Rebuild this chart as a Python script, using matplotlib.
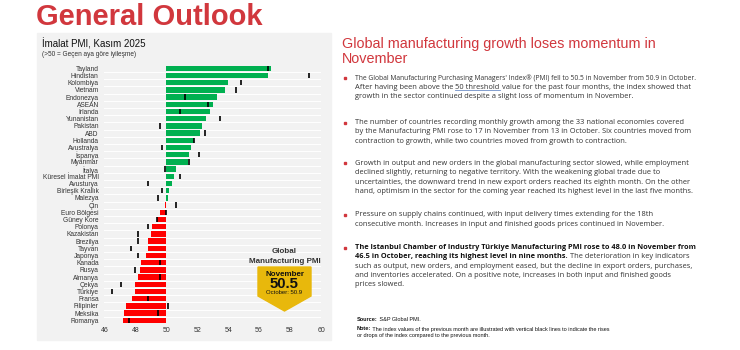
import matplotlib
matplotlib.use("Agg")
import matplotlib.pyplot as plt
from matplotlib.patches import Rectangle, Polygon
from matplotlib.lines import Line2D

plt.rcParams['font.family'] = ['Liberation Sans', 'DejaVu Sans']

# November 2025 manufacturing PMI and the October value (black markers)
countries = ['Tayland', 'Hindistan', 'Kolombiya', 'Vietnam', 'Endonezya', 'ASEAN',
             'İrlanda', 'Yunanistan', 'Pakistan', 'ABD', 'Hollanda', 'Avustralya',
             'İspanya', 'Myanmar', 'İtalya', 'Küresel İmalat PMI', 'Avusturya',
             'Birleşik Krallık', 'Malezya', 'Çin', 'Euro Bölgesi', 'Güney Kore',
             'Polonya', 'Kazakistan', 'Brezilya', 'Tayvan', 'Japonya', 'Kanada',
             'Rusya', 'Almanya', 'Çekya', 'Türkiye', 'Fransa', 'Filipinler',
             'Meksika', 'Romanya']
pmi_nov = [56.8, 56.6, 54.0, 53.8, 53.3, 53.0, 52.8, 52.6, 52.3, 52.2, 51.8, 51.6,
           51.5, 51.4, 50.6, 50.5, 50.4, 50.2, 50.1, 49.9, 49.6, 49.4, 49.1, 49.0,
           48.8, 48.8, 48.7, 48.4, 48.3, 48.2, 48.0, 48.0, 47.8, 47.4, 47.3, 47.2]
pmi_oct = [56.6, 59.2, 54.8, 54.5, 51.2, 52.7, 50.9, 53.5, 49.6, 52.5, 51.8, 49.7,
           52.1, 51.5, 49.9, 50.9, 48.8, 49.7, 49.5, 50.6, 50.0, 49.4, 48.8, 48.2,
           48.2, 47.7, 48.2, 49.6, 48.0, 49.6, 47.1, 46.5, 48.8, 50.1, 49.5, 47.6]
x_ticks = [46, 48, 50, 52, 54, 56, 58, 60]

RED = '#d1373d'
GREEN = '#00b050'
BAR_RED = '#ff0000'
TXT = '#333333'
W, H = 740, 350
BODY_FONT = ['Open Sans', 'DejaVu Sans']


def fx(x):
    return x / W


def fy(y):
    return 1 - y / H


fig = plt.figure(figsize=(7.4, 3.5), dpi=100)

# title and grey chart panel
fig.text(fx(36), fy(25), 'General Outlook', color=RED, fontsize=21,
         fontweight='bold', va='baseline')
fig.patches.append(Rectangle((fx(37), fy(340)), fx(331 - 37), (340 - 33) / H,
                             transform=fig.transFigure, color='#f2f2f2', zorder=-5))
fig.text(fx(42), fy(44), 'İmalat PMI, Kasım 2025', fontsize=7, color='#111111', va='center')
fig.text(fx(42), fy(55), '(>50 = Geçen aya göre iyileşme)', fontsize=4.7,
         color=TXT, va='center')

# bar chart
ax = fig.add_axes([fx(104.3), fy(323.9), fx(321 - 104.3), 259.2 / H])
ax.set_facecolor('none')
ypos = list(range(len(countries)))
colors = [GREEN if v >= 50 else BAR_RED for v in pmi_nov]
ax.barh(ypos, [v - 50 for v in pmi_nov], left=50, height=0.75, color=colors, zorder=2)
ax.vlines(pmi_oct, [y - 0.38 for y in ypos], [y + 0.38 for y in ypos],
          color='black', lw=1.2, zorder=3)
for y in ypos[1:]:
    ax.axhline(y - 0.5, color='white', lw=0.7, zorder=1)
ax.set_xlim(46, 60)
ax.set_ylim(len(countries) - 0.5, -0.5)
ax.set_xticks(x_ticks)
ax.set_yticks(ypos)
ax.set_yticklabels(countries)
ax.tick_params(length=0, labelsize=4.8, colors=TXT, axis='y', pad=4)
ax.tick_params(length=0, labelsize=5, colors=TXT, axis='x', pad=2.5)
for s in ax.spines.values():
    s.set_visible(False)

# global PMI badge
badge = Polygon([(fx(258), fy(267)), (fx(311), fy(267)), (fx(311), fy(296)),
                 (fx(284.5), fy(311)), (fx(258), fy(296))],
                transform=fig.transFigure, color='#e8b80c', zorder=2)
fig.patches.append(badge)
fig.text(fx(284.5), fy(251.5), 'Global', fontsize=5.8, fontweight='bold',
         color=TXT, ha='center', va='center')
fig.text(fx(284.5), fy(261.5), 'Manufacturing PMI', fontsize=5.8, fontweight='bold',
         color=TXT, ha='center', va='center')
fig.text(fx(284.5), fy(274.5), 'November', fontsize=5.8, fontweight='bold',
         color='#111111', ha='center', va='center')
fig.text(fx(284.5), fy(283.5), '50.5', fontsize=10.7, fontweight='bold',
         color='#111111', ha='center', va='center')
fig.text(fx(284.5), fy(293), 'October: 50.9', fontsize=4.3,
         color='#111111', ha='center', va='center')

# right column
fig.text(fx(342), fy(44), 'Global manufacturing growth loses momentum in',
         fontsize=10.4, color=RED, va='center')
fig.text(fx(342), fy(59), 'November', fontsize=10.4, color=RED, va='center')

paragraphs = [
    (78, [None, None,
          "growth in the sector continued despite a slight loss of momentum in November."]),
    (122.5, ["The number of countries recording monthly growth among the 33 national economies covered",
             "by the Manufacturing PMI rose to 17 in November from 13 in October. Six countries moved from",
             "contraction to growth, while two countries moved from growth to contraction."]),
    (163.5, ["Growth in output and new orders in the global manufacturing sector slowed, while employment",
             "declined slightly, returning to negative territory. With the weakening global trade due to",
             "uncertainties, the downward trend in new export orders reached its eighth month. On the other",
             "hand, optimism in the sector for the coming year reached its highest level in the last five months."]),
    (215, ["Pressure on supply chains continued, with input delivery times extending for the 18th",
           "consecutive month. Increases in input and finished goods prices continued in November."]),
]
LS = 9.3
BODY = 5.4
BOLD = 5.3
TX = 355
for y0, lines in paragraphs:
    fig.add_artist(Line2D([fx(344.5)], [fy(y0)], marker='s', ms=1.7, color=RED,
                          transform=fig.transFigure))
    for i, line in enumerate(lines):
        if line is None:
            continue
        fig.text(fx(TX), fy(y0 + i * LS), line, fontsize=BODY, color=TXT, va='center',
                 family=BODY_FONT)

# first line of the first bullet is a little tighter
fig.text(fx(TX), fy(78),
         "The Global Manufacturing Purchasing Managers' Index® (PMI) fell to 50.5 in November from 50.9 in October.",
         fontsize=4.85, color=TXT, va='center', family=BODY_FONT)

# line with the underlined "50 threshold"
y1 = 78 + LS
t1 = fig.text(fx(TX), fy(y1), 'After having been above the ', fontsize=BODY,
              color=TXT, va='center', family=BODY_FONT)
t2 = ax.annotate('50 threshold', xy=(1, 0), xycoords=t1, va='bottom',
                 fontsize=BODY, color=TXT, annotation_clip=False, family=BODY_FONT)
t3 = ax.annotate(' value for the past four months, the index showed that', xy=(1, 0),
                 xycoords=t2, va='bottom', fontsize=BODY, color=TXT,
                 annotation_clip=False, family=BODY_FONT)

# Türkiye paragraph, partly bold
y5 = 247.5
fig.add_artist(Line2D([fx(344.5)], [fy(y5)], marker='s', ms=1.7, color=RED,
                      transform=fig.transFigure))
fig.text(fx(TX), fy(y5), 'The Istanbul Chamber of Industry Türkiye Manufacturing PMI rose to 48.0 in November from',
         fontsize=BOLD, fontweight='bold', color='#111111', va='center', family=BODY_FONT)
b2 = fig.text(fx(TX), fy(y5 + LS), '46.5 in October, reaching its highest level in nine months.',
              fontsize=BOLD, fontweight='bold', color='#111111', va='center', family=BODY_FONT)
ax.annotate(' The deterioration in key indicators', xy=(1, 0), xycoords=b2, va='bottom',
            fontsize=BODY, color=TXT, annotation_clip=False, family=BODY_FONT)
rest = ["such as output, new orders, and employment eased, but the decline in export orders, purchases,",
        "and inventories accelerated. On a positive note, increases in both input and finished goods",
        "prices slowed."]
for i, line in enumerate(rest):
    fig.text(fx(TX), fy(y5 + (i + 2) * LS), line, fontsize=BODY, color=TXT, va='center',
             family=BODY_FONT)

# source and note
SMALL = 4.0
s1 = fig.text(fx(357), fy(319.5), 'Source:', fontsize=SMALL, fontweight='bold',
              color='#111111', va='center')
ax.annotate(' S&P Global PMI.', xy=(1, 0), xycoords=s1, va='bottom', fontsize=SMALL,
            color='#111111', annotation_clip=False)
n1 = fig.text(fx(357), fy(329), 'Note:', fontsize=SMALL, fontweight='bold',
              color='#111111', va='center')
ax.annotate(' The index values of the previous month are illustrated with vertical black lines to indicate the rises',
            xy=(1, 0), xycoords=n1, va='bottom', fontsize=SMALL, color='#111111',
            annotation_clip=False)
fig.text(fx(357), fy(335.5), 'or drops of the index compared to the previous month.',
         fontsize=SMALL, color='#111111', va='center')

# underline the threshold link
fig.canvas.draw()
bb = t2.get_window_extent().transformed(fig.transFigure.inverted())
fig.add_artist(Line2D([bb.x0, bb.x1], [bb.y0 + 0.002, bb.y0 + 0.002], color='#6f8fc8',
                      lw=0.6, transform=fig.transFigure))

fig.savefig('out.png', dpi=100)
